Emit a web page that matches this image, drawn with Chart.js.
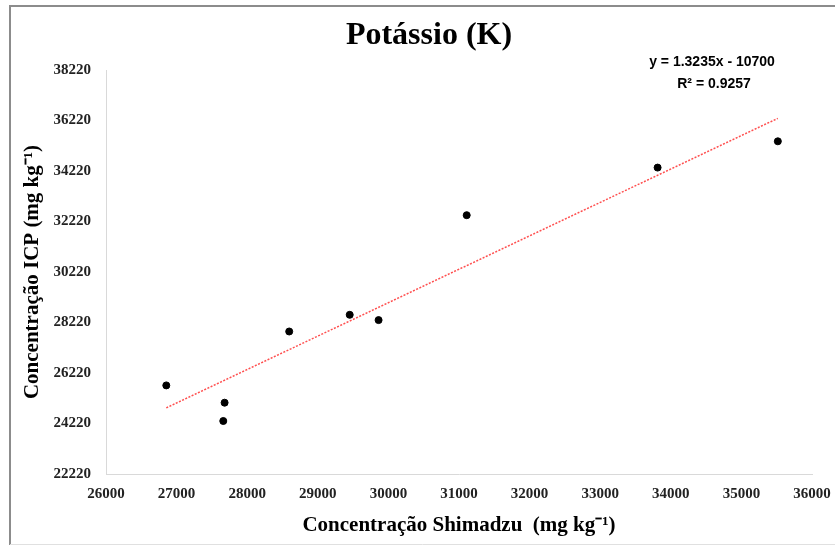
<!DOCTYPE html>
<html>
<head>
<meta charset="utf-8">
<script src="https://cdn.jsdelivr.net/npm/chart.js@4/dist/chart.umd.min.js"></script>
<style>
  html, body { margin: 0; padding: 0; background: #fff; }
  #wrap { position: relative; width: 835px; height: 545px; }
  canvas { display: block; }
</style>
</head>
<body>
<div id="wrap"><canvas id="c" width="835" height="545"></canvas></div>
<script>
// ---- data ----
const shimadzu = [26854, 27680, 27661, 28595, 29452, 29861, 31109, 33813, 35516];
const icp      = [25729, 25044, 24319, 27864, 28525, 28315, 32470, 34355, 35396];
const trendSlope = 1.3235;
const trendIntercept = -10700;
const xMin = 26000, xMax = 36000, xStep = 1000;
const yMin = 22220, yMax = 38220, yStep = 2000;
const titleText = 'Potássio (K)';
const eqText = 'y = 1.3235x - 10700';
const r2Text = 'R² = 0.9257';
const xTitle = 'Concentração Shimadzu  (mg kg⁻¹)';
const yTitle = 'Concentração ICP (mg kg⁻¹)';

const points = shimadzu.map((x, i) => ({ x: x, y: icp[i] }));
const tx0 = Math.min(...shimadzu), tx1 = Math.max(...shimadzu);
const trend = [
  { x: tx0, y: trendSlope * tx0 + trendIntercept },
  { x: tx1, y: trendSlope * tx1 + trendIntercept }
];

const decor = {
  id: 'decor',
  beforeDraw(chart) {
    const ctx = chart.ctx;
    ctx.save();
    ctx.fillStyle = '#fff';
    ctx.fillRect(0, 0, chart.width, chart.height);
    // outer frame
    ctx.strokeStyle = '#8c8c8c';
    ctx.lineWidth = 2;
    ctx.beginPath();
    ctx.moveTo(10, 545);
    ctx.lineTo(10, 6);
    ctx.lineTo(835, 6);
    ctx.stroke();
    ctx.strokeStyle = '#e0e0e0';
    ctx.lineWidth = 1;
    ctx.beginPath();
    ctx.moveTo(10, 544.5);
    ctx.lineTo(835, 544.5);
    ctx.stroke();
    ctx.restore();
  },
  afterDraw(chart) {
    const ctx = chart.ctx;
    ctx.save();
    ctx.fillStyle = '#000';
    ctx.textAlign = 'center';
    ctx.textBaseline = 'middle';
    ctx.font = 'bold 32px "Liberation Serif"';
    ctx.fillText(titleText, 429, 36);
    ctx.font = 'bold 14px "Liberation Sans"';
    ctx.fillText(eqText, 712, 62);
    ctx.fillText(r2Text, 714, 84);
    ctx.restore();
  }
};

new Chart(document.getElementById('c'), {
  type: 'scatter',
  data: {
    datasets: [
      {
        label: 'K',
        data: points,
        backgroundColor: '#000',
        borderColor: '#000',
        pointRadius: 3.5,
        pointHoverRadius: 3.5,
        order: 1
      },
      {
        type: 'line',
        label: 'trend',
        data: trend,
        borderColor: 'rgba(255,60,60,0.9)',
        borderWidth: 1.5,
        borderDash: [2, 1.5],
        pointRadius: 0,
        fill: false,
        order: 2
      }
    ]
  },
  options: {
    responsive: false,
    animation: false,
    events: [],
    layout: { padding: { left: 0, right: 23, top: 70, bottom: 0 } },
    plugins: {
      legend: { display: false },
      tooltip: { enabled: false },
      title: { display: false }
    },
    scales: {
      x: {
        type: 'linear',
        min: xMin, max: xMax,
        ticks: {
          stepSize: xStep,
          color: '#222',
          padding: 11,
          font: { family: 'Liberation Serif', size: 15, weight: 'bold' },
          callback: v => String(v)
        },
        grid: { display: false, drawTicks: false },
        border: { display: true, color: '#d9d9d9', width: 1 },
        title: {
          display: true,
          text: xTitle,
          color: '#000',
          font: { family: 'Liberation Serif', size: 21, weight: 'bold' },
          padding: { top: 0, bottom: 7 }
        },
        afterFit(s) { s.height = 71; s.paddingLeft = 0; s.paddingRight = 0; }
      },
      y: {
        type: 'linear',
        min: yMin, max: yMax,
        ticks: {
          stepSize: yStep,
          color: '#222',
          padding: 15,
          font: { family: 'Liberation Serif', size: 15, weight: 'bold' },
          callback: v => String(v)
        },
        grid: { display: false, drawTicks: false },
        border: { display: true, color: '#d9d9d9', width: 1 },
        title: {
          display: true,
          text: yTitle,
          color: '#000',
          font: { family: 'Liberation Serif', size: 21, weight: 'bold' },
          padding: { top: 20, bottom: 0 }
        },
        afterFit(s) { s.width = 106; s.paddingTop = 0; s.paddingBottom = 0; }
      }
    }
  },
  plugins: [decor]
});
</script>
</body>
</html>
